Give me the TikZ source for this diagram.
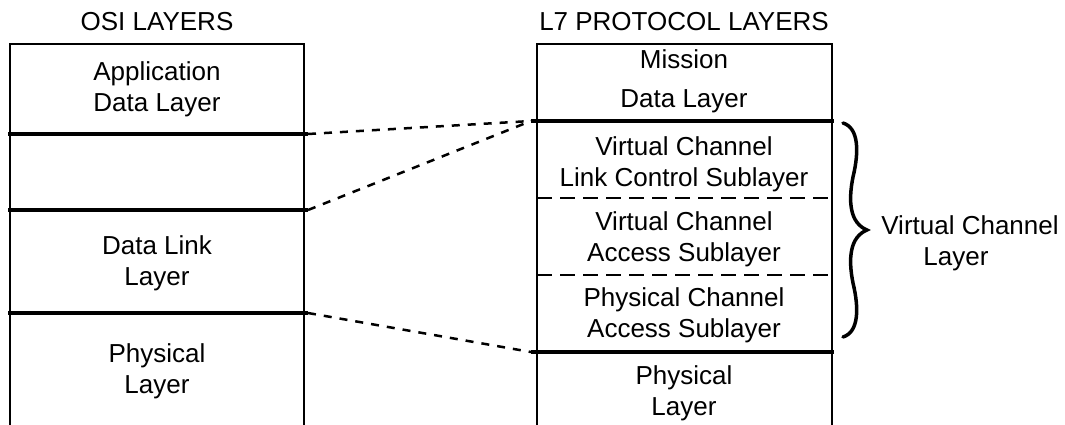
\documentclass[tikz,border=0pt]{standalone}
\usepackage{fontspec}
\setmainfont{Liberation Sans}
\begin{document}
\begin{tikzpicture}[x=1pt,y=-1pt,
  every node/.style={font=\fontsize{26}{31}\selectfont, align=center, inner sep=0pt},
  frame/.style={line width=2pt},
  thickline/.style={line width=4pt},
  subline/.style={line width=2pt, dash pattern=on 15pt off 8pt},
  link/.style={line width=2.5pt, dash pattern=on 8pt off 8pt},
  bracestyle/.style={line width=3.5pt, line cap=round}]
\useasboundingbox (0,0) rectangle (1065,425);
% titles
\node (t1) at (157,22) {OSI LAYERS};
\node (t2) at (684,22) {L7 PROTOCOL LAYERS};
% left stack frame
\draw[frame] (10,425) -- (10,44) -- (304,44) -- (304,425);
\coordinate (la1) at (8,134);  \coordinate (lb1) at (308,134);
\coordinate (la2) at (8,210);  \coordinate (lb2) at (308,210);
\coordinate (la3) at (8,313);  \coordinate (lb3) at (308,313);
\draw[thickline] (la1) -- (lb1);
\draw[thickline] (la2) -- (lb2);
\draw[thickline] (la3) -- (lb3);
\node (app) at (157,89) {Application\\Data Layer};
\node (dll) at (157,263) {Data Link\\Layer};
\node (phl) at (157,371) {Physical\\Layer};
% right stack frame
\draw[frame] (537,425) -- (537,44) -- (832,44) -- (832,425);
\coordinate (ra1) at (531,121); \coordinate (rb1) at (834,121);
\coordinate (ra2) at (531,352); \coordinate (rb2) at (834,352);
\coordinate (rd1) at (537,198); \coordinate (re1) at (832,198);
\coordinate (rd2) at (537,275); \coordinate (re2) at (832,275);
\draw[thickline] (ra1) -- (rb1);
\draw[thickline] (ra2) -- (rb2);
\draw[subline] (rd1) -- (re1);
\draw[subline] (rd2) -- (re2);
\node (mis) at (684,81) {Mission\\[8pt]Data Layer};
\node (vclc) at (684,164) {Virtual Channel\\Link Control Sublayer};
\node (vca) at (684,239) {Virtual Channel\\Access Sublayer};
\node (pca) at (684,315) {Physical Channel\\Access Sublayer};
\node (phr) at (684,393) {Physical\\Layer};
% connectors
\draw[link] (lb1) -- (ra1);
\draw[link] (lb2) -- (ra1);
\draw[link] (lb3) -- (ra2);
% brace
\coordinate (bt) at (843,123);
\coordinate (btip) at (867,230);
\coordinate (bb) at (843,337);
\draw[bracestyle] (bt) .. controls (859,128) and (859,152) .. (853,177)
  .. controls (848,202) and (850,223) .. (btip)
  .. controls (850,237) and (848,258) .. (853,283)
  .. controls (859,308) and (859,332) .. (bb);
\node (vcl) at (970,243) {Virtual Channel\\Layer\hspace*{28pt}};
\end{tikzpicture}
\end{document}
